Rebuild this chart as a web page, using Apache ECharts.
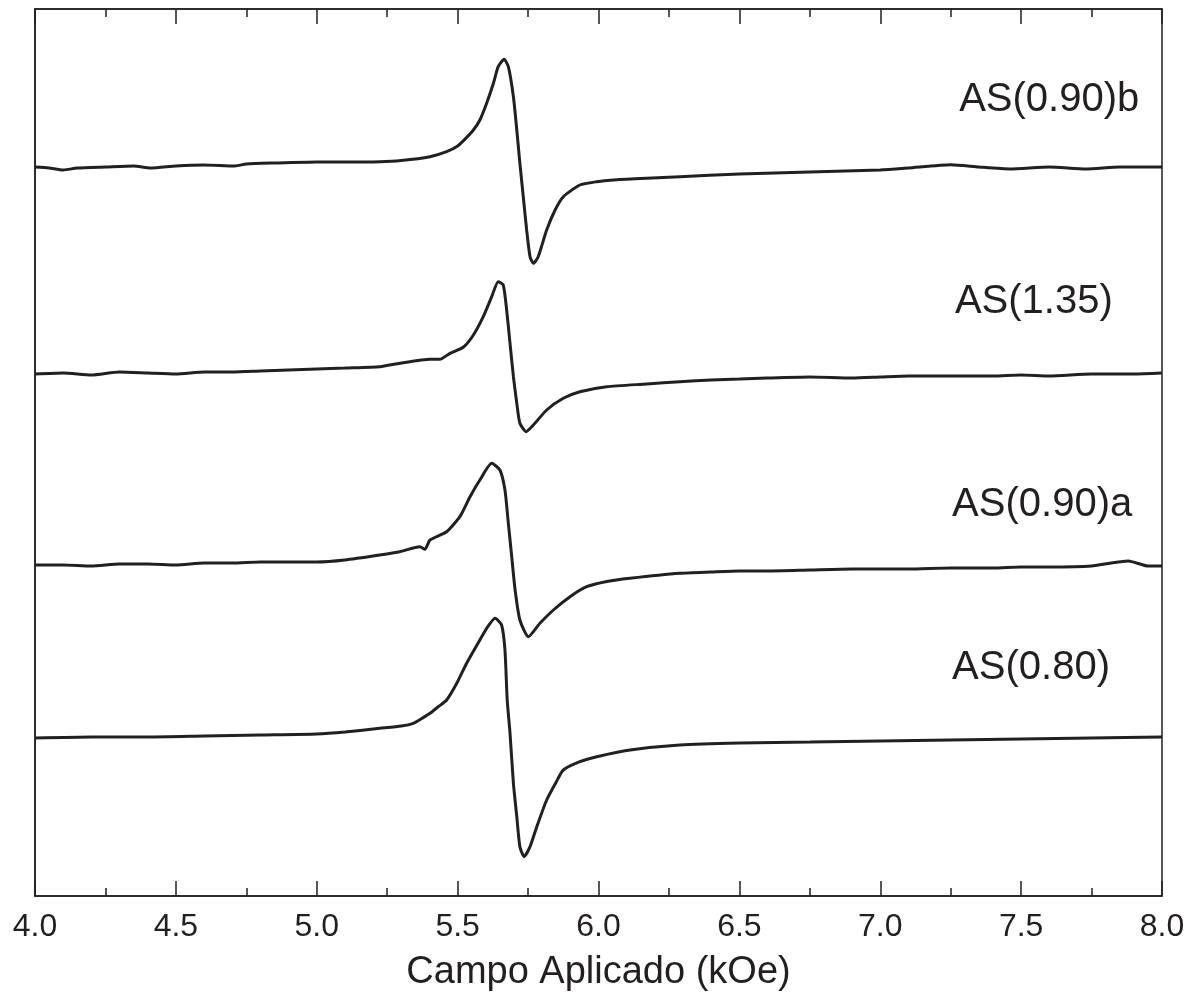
<!DOCTYPE html>
<html>
<head>
<meta charset="utf-8">
<script src="https://cdn.jsdelivr.net/npm/echarts@6/dist/echarts.min.js"></script>
<style>
html,body{margin:0;padding:0;background:#fff;}
#chart{width:1202px;height:999px;}
</style>
</head>
<body>
<div id="chart"></div>
<script>
// Sample names (labels on the chart), top to bottom
const sampleNames = ['AS(0.90)b', 'AS(1.35)', 'AS(0.90)a', 'AS(0.80)'];
// Vertical offsets of each trace (arb. units)
const offsets = [729, 523, 331, 158];

// Field (kOe) and derivative signal (arb. units)
const field_090b = [4.00,4.05,4.10,4.15,4.25,4.35,4.41,4.50,4.60,4.71,4.75,4.85,5.00,5.10,5.224,5.30,5.402,5.461,5.500,5.530,5.556,5.579,5.603,5.627,5.644,5.665,5.680,5.698,5.710,5.721,5.733,5.745,5.757,5.769,5.786,5.816,5.846,5.875,5.934,5.994,6.053,6.171,6.289,6.50,6.75,7.00,7.10,7.25,7.35,7.46,7.60,7.73,7.85,8.00];
const sig_090b   = [0,-1,-3,-1,0,1,-1,1,2,1,3,4,5,5,5.3,6.5,10.3,15.3,21,29,37,47,63.7,83.7,100.3,107.7,100.3,70.3,37,3.7,-29.7,-63,-89.7,-96.3,-89.7,-63,-43,-29.7,-18,-14.7,-13,-11.3,-9.7,-7,-5,-3,-1,2.3,0,-2,0,-2,0,0];

const field_135 = [4.00,4.10,4.20,4.30,4.40,4.50,4.60,4.70,4.80,4.90,5.00,5.10,5.224,5.295,5.402,5.437,5.473,5.520,5.556,5.591,5.621,5.644,5.662,5.674,5.686,5.698,5.710,5.721,5.743,5.769,5.816,5.875,5.934,6.029,6.171,6.289,6.40,6.50,6.60,6.75,6.90,7.00,7.10,7.25,7.40,7.50,7.60,7.75,7.90,8.00];
const sig_135   = [-1,0,-2,1,0,-1,1,1,2,3,4,5,6.3,9.7,13.7,13.7,19.7,25.7,38,56.3,76.3,91.3,88,63,29.7,-3.7,-30.3,-50.3,-58.7,-52,-37,-25.3,-18.7,-13.7,-11,-8.7,-7,-6,-5,-4,-5,-4,-3,-3,-3,-2,-3,-1,-1,0];

const field_090a = [4.00,4.10,4.20,4.30,4.40,4.50,4.60,4.70,4.80,4.90,5.00,5.10,5.224,5.295,5.366,5.384,5.402,5.461,5.508,5.544,5.579,5.621,5.650,5.668,5.680,5.692,5.704,5.721,5.751,5.792,5.840,5.899,5.958,6.030,6.112,6.289,6.40,6.50,6.60,6.75,6.90,7.00,7.10,7.25,7.40,7.50,7.60,7.75,7.88,7.95,8.00];
const sig_090a   = [0,0,-1,1,1,0,2,2,3,3,3,5,10,13.3,18.3,15.7,25,33.3,48.3,68.3,85,101.7,95,75,41.7,8.3,-25,-55,-71.7,-58.3,-45,-31.7,-21.7,-16.5,-13.3,-8.3,-7,-6,-6,-5,-4,-4,-4,-3,-3,-2,-2,-1,4,-1,-1];

const field_080 = [4.00,4.20,4.40,4.60,4.80,5.00,5.10,5.224,5.300,5.343,5.370,5.402,5.430,5.461,5.497,5.532,5.579,5.603,5.633,5.656,5.668,5.676,5.686,5.698,5.710,5.721,5.736,5.757,5.781,5.816,5.850,5.875,5.934,5.994,6.112,6.289,6.50,6.75,7.00,7.25,7.50,7.75,8.00];
const sig_080   = [0,1,1,2,3,4,6,9.7,12,14.7,19,24.7,31,38,54.7,74.7,98,109.7,119.7,113,88,38,4.7,-45.3,-78.7,-108.7,-118.7,-108.7,-88.7,-62,-44,-32,-23.7,-18.7,-12,-7,-5,-4,-3,-2,-1,0,1];

// X-axis tick labels
const xTicks = [4.0,4.5,5.0,5.5,6.0,6.5,7.0,7.5,8.0];

const fields = [field_090b, field_135, field_090a, field_080];
const signals = [sig_090b, sig_135, sig_090a, sig_080];

const FONT = '"Liberation Sans", Arial, Helvetica, sans-serif';
const INK = '#231f20';
// label anchors: [field, height above trace baseline]
const labelAnchor = [[7.28, 67], [7.265, 71], [7.255, 60], [7.255, 70]];

const series = sampleNames.map((name, i) => ({
  name: name,
  type: 'line',
  xAxisIndex: 0,
  yAxisIndex: 0,
  data: fields[i].map((f, k) => [f, offsets[i] + signals[i][k]]),
  showSymbol: false,
  smooth: 0.2,
  lineStyle: { color: INK, width: 3 },
  silent: true,
  markPoint: {
    symbol: 'circle',
    symbolSize: 0,
    itemStyle: { color: 'rgba(0,0,0,0)' },
    label: {
      show: true,
      position: 'right',
      distance: 0,
      formatter: name,
      fontFamily: FONT,
      fontSize: 40,
      color: INK
    },
    data: [{ coord: [labelAnchor[i][0], offsets[i] + labelAnchor[i][1]] }]
  }
}));

const chart = echarts.init(document.getElementById('chart'), null, { renderer: 'canvas' });
chart.setOption({
  animation: false,
  backgroundColor: '#ffffff',
  grid: { left: 35, right: 40, top: 9, bottom: 103, show: true, borderColor: INK, borderWidth: 1.5, backgroundColor: 'transparent' },
  xAxis: [
    {
      type: 'value', position: 'bottom', min: 4, max: 8, interval: 0.5,
      name: 'Campo Aplicado (kOe)', nameLocation: 'middle', nameGap: 58,
      nameTextStyle: { fontFamily: FONT, fontSize: 38, color: INK },
      axisLine: { show: true, lineStyle: { color: INK, width: 1.5 } },
      axisTick: { show: true, inside: true, length: 15, lineStyle: { color: INK, width: 1.5 } },
      minorTick: { show: true, splitNumber: 2, length: 8, lineStyle: { color: INK, width: 1.5 } },
      splitLine: { show: false },
      axisLabel: {
        margin: 15, fontFamily: FONT, fontSize: 32, color: INK,
        formatter: v => { const t = xTicks.find(x => Math.abs(x - v) < 1e-9); return t === undefined ? '' : t.toFixed(1); }
      }
    },
    {
      type: 'value', position: 'top', min: 4, max: 8, interval: 0.5,
      axisLine: { show: true, lineStyle: { color: INK, width: 1.5 } },
      axisTick: { show: true, inside: true, length: 15, lineStyle: { color: INK, width: 1.5 } },
      minorTick: { show: true, splitNumber: 2, length: 8, lineStyle: { color: INK, width: 1.5 } },
      splitLine: { show: false },
      axisLabel: { show: false }
    }
  ],
  yAxis: {
    type: 'value', min: 0, max: 887,
    axisLine: { show: true, lineStyle: { color: INK, width: 1.5 } },
    axisTick: { show: false },
    axisLabel: { show: false },
    splitLine: { show: false }
  },
  series: series
});
</script>
</body>
</html>
